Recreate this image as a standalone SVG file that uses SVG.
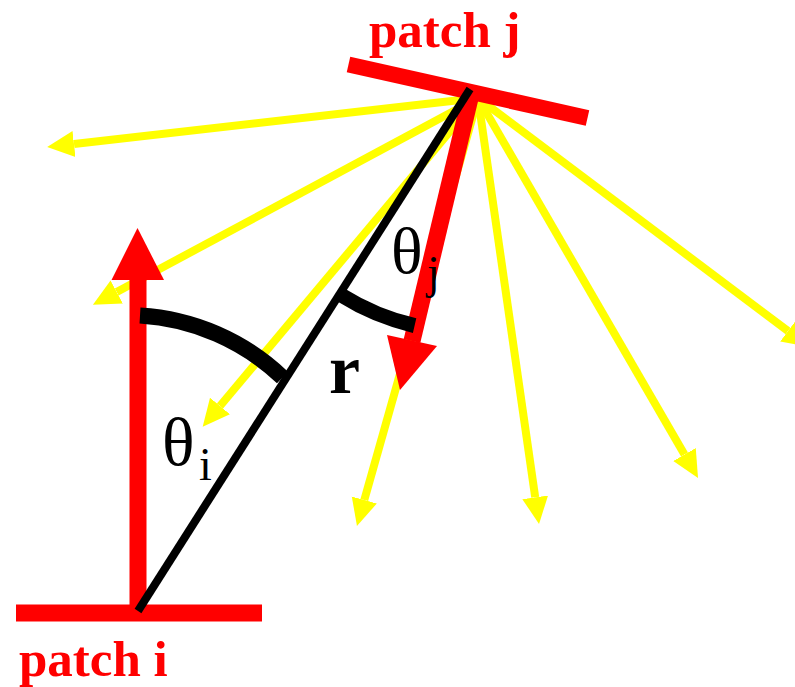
<svg xmlns="http://www.w3.org/2000/svg" width="795" height="687" viewBox="0 0 795 687">
<style>
.ray{stroke:#ffff00;stroke-width:8;fill:none;marker-end:url(#ya)}
.bar{stroke:#ff0000;stroke-width:17;fill:none}
.red{stroke:#ff0000;stroke-width:17;fill:none}
.blk{stroke:#000;fill:none}
.lbl{font-family:"Liberation Serif","Times New Roman",serif;font-weight:bold;fill:#ff0000}
.gk{font-family:"Liberation Serif","Times New Roman",serif;fill:#000}
</style>
<defs>
<marker id="ya" markerUnits="userSpaceOnUse" markerWidth="28" markerHeight="28" viewBox="0 -14 28 28" refX="0" refY="0" orient="auto">
<path d="M0,-13 L27,0 L0,13 Z" fill="#ffff00"/>
</marker>
</defs>
<rect width="795" height="687" fill="#fff"/>
<g id="connectors">
<line class="ray" x1="478" y1="98" x2="74" y2="144"/>
<line class="ray" x1="478" y1="98" x2="116.7" y2="292"/>
<line class="ray" x1="478" y1="98" x2="220" y2="406"/>
<line class="ray" x1="478" y1="98" x2="364.3" y2="500"/>
<line class="ray" x1="478" y1="98" x2="535.2" y2="497.3"/>
<line class="ray" x1="478" y1="98" x2="684.5" y2="454.6"/>
<line class="ray" x1="478" y1="98" x2="788" y2="331"/>
</g>
<g id="patch-j">
<line class="bar" x1="348.5" y1="64.5" x2="587.5" y2="118" style="stroke-width:16"/>
<text class="lbl" x="369" y="47" font-size="51">patch j</text>
</g>
<g id="patch-i">
<line class="bar" x1="16" y1="613" x2="262" y2="613"/>
<text class="lbl" x="19" y="676" font-size="51">patch i</text>
</g>
<g id="normal-i">
<line class="red" x1="138" y1="612" x2="138" y2="279"/>
<path d="M137.5,228 L164,280 L111.5,280 Z" fill="#ff0000"/>
</g>
<g id="normal-j">
<line class="red" x1="471.5" y1="92" x2="412" y2="341"/>
<path d="M400,390 L437,346 L387,335 Z" fill="#ff0000"/>
</g>
<g id="r-line">
<line class="blk" x1="138" y1="611" x2="470" y2="89" stroke-width="8"/>
<text class="gk" x="329" y="393" font-size="70" font-weight="bold">r</text>
</g>
<g id="theta-i">
<path class="blk" d="M140,315.5 A226,226 0 0 1 282.5,377.5" stroke-width="16"/>
<text class="gk" x="162" y="465" font-size="68">θ<tspan x="199" y="480" font-size="46">i</tspan></text>
</g>
<g id="theta-j">
<path class="blk" d="M341,295 A243,243 0 0 0 414.6,325.6" stroke-width="15"/>
<text class="gk" x="391" y="273" font-size="66">θ<tspan x="427" y="288" font-size="46">j</tspan></text>
</g>
</svg>
